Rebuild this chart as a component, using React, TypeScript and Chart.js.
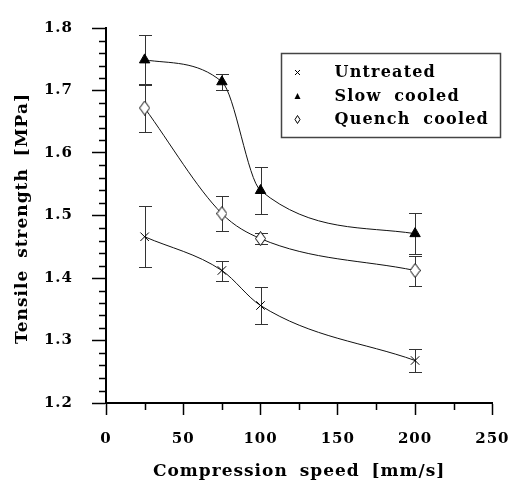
import React, { useEffect, useRef } from 'react';
import { Chart, registerables } from 'chart.js';

Chart.register(...registerables);

// ---------- data ----------
const speeds = [25, 75, 100, 200];
const untreated = [1.466, 1.412, 1.356, 1.268];
const untreatedErr = [0.049, 0.016, 0.03, 0.018];
const slowCooled = [1.749, 1.714, 1.54, 1.471];
const slowCooledErr = [0.04, 0.013, 0.038, 0.033];
const quenchCooled = [1.672, 1.503, 1.463, 1.412];
const quenchCooledErr = [0.039, 0.028, 0.009, 0.024];
const seriesLabels = ['Untreated', 'Slow cooled', 'Quench cooled'];

const xTicks = [0, 50, 100, 150, 200, 250];
const xMinorTicks = [25, 75, 125, 175, 225];
const yTicks = [1.2, 1.3, 1.4, 1.5, 1.6, 1.7, 1.8];
const yMinorTicks = [
  1.22, 1.24, 1.26, 1.28, 1.32, 1.34, 1.36, 1.38, 1.42, 1.44, 1.46, 1.48,
  1.52, 1.54, 1.56, 1.58, 1.62, 1.64, 1.66, 1.68, 1.72, 1.74, 1.76, 1.78,
];
const xTitle = 'Compression speed [mm/s]';
const yTitle = 'Tensile strength [MPa]';

const FONT = '"DejaVu Serif", "Liberation Serif", serif';
const errorSets = [untreatedErr, slowCooledErr, quenchCooledErr];

function makeDiamond(w: number, h: number, lw: number) {
  const c = document.createElement('canvas');
  c.width = w;
  c.height = h;
  const g = c.getContext('2d')!;
  g.beginPath();
  g.moveTo(w / 2, 0.5);
  g.lineTo(w - 0.5, h / 2);
  g.lineTo(w / 2, h - 0.5);
  g.lineTo(0.5, h / 2);
  g.closePath();
  g.fillStyle = '#fff';
  g.fill();
  g.lineWidth = lw;
  g.strokeStyle = '#000';
  g.stroke();
  return c;
}

const spacingPlugin = {
  id: 'spacing',
  beforeDraw(chart: any) {
    Object.values(chart.scales).forEach((s: any) => {
      if (s.__wrapped) return;
      s.__wrapped = true;
      const horiz = s.isHorizontal();
      const dt = s.drawTitle.bind(s);
      s.drawTitle = () => {
        const c = chart.ctx as any;
        c.save();
        c.letterSpacing = '1px';
        c.wordSpacing = '5px';
        if (!horiz) c.translate(0, 3);
        dt();
        c.restore();
      };
      const dl = s.drawLabels.bind(s);
      s.drawLabels = (a: any) => {
        const c = chart.ctx as any;
        c.save();
        c.letterSpacing = '1px';
        dl(a);
        c.restore();
      };
    });
  },
};

const errorBarPlugin = {
  id: 'errorBars',
  beforeDatasetsDraw(chart: any) {
    const { ctx } = chart;
    const x = chart.scales.x;
    const y = chart.scales.y;
    ctx.save();
    ctx.strokeStyle = '#333';
    ctx.lineWidth = 1;
    chart.data.datasets.forEach((ds: any, i: number) => {
      const errs = errorSets[i];
      ds.data.forEach((p: any, j: number) => {
        const px = Math.round(x.getPixelForValue(p.x)) + 0.5;
        const top = Math.round(y.getPixelForValue(p.y + errs[j])) + 0.5;
        const bot = Math.round(y.getPixelForValue(p.y - errs[j])) + 0.5;
        ctx.beginPath();
        ctx.moveTo(px, top);
        ctx.lineTo(px, bot);
        ctx.moveTo(px - 6.5, top);
        ctx.lineTo(px + 6.5, top);
        ctx.moveTo(px - 6.5, bot);
        ctx.lineTo(px + 6.5, bot);
        ctx.stroke();
      });
    });
    ctx.restore();
  },
};

const minorTickPlugin = {
  id: 'minorTicks',
  afterDraw(chart: any) {
    const { ctx, chartArea } = chart;
    const x = chart.scales.x;
    const y = chart.scales.y;
    ctx.save();
    ctx.strokeStyle = '#000';
    ctx.lineWidth = 1.5;
    ctx.beginPath();
    yMinorTicks.forEach((v) => {
      const py = Math.round(y.getPixelForValue(v)) + 0.5;
      ctx.moveTo(chartArea.left - 7, py);
      ctx.lineTo(chartArea.left, py);
    });
    xMinorTicks.forEach((v) => {
      const px = Math.round(x.getPixelForValue(v)) + 0.5;
      ctx.moveTo(px, chartArea.bottom);
      ctx.lineTo(px, chartArea.bottom + 7);
    });
    ctx.stroke();
    ctx.restore();
  },
};

const legendPlugin = {
  id: 'boxLegend',
  afterDraw(chart: any) {
    const { ctx, chartArea } = chart;
    const bx = Math.round(chartArea.left + 175) + 0.5;
    const by = Math.round(chartArea.top + 25) + 0.5;
    const bw = 219;
    const bh = 84;
    ctx.save();
    ctx.fillStyle = '#fff';
    ctx.fillRect(bx, by, bw, bh);
    ctx.strokeStyle = '#444';
    ctx.lineWidth = 1.5;
    ctx.strokeRect(bx, by, bw, bh);
    const mx = bx + 16;
    const tx = bx + 53;
    const rowY = [by + 19, by + 43, by + 66];
    ctx.strokeStyle = '#000';
    ctx.fillStyle = '#000';
    ctx.lineWidth = 1;
    let cy = rowY[0];
    ctx.beginPath();
    ctx.moveTo(mx - 2.5, cy - 2.5);
    ctx.lineTo(mx + 2.5, cy + 2.5);
    ctx.moveTo(mx + 2.5, cy - 2.5);
    ctx.lineTo(mx - 2.5, cy + 2.5);
    ctx.stroke();
    cy = rowY[1];
    ctx.beginPath();
    ctx.moveTo(mx, cy - 3.5);
    ctx.lineTo(mx + 3, cy + 2.5);
    ctx.lineTo(mx - 3, cy + 2.5);
    ctx.closePath();
    ctx.fill();
    cy = rowY[2];
    ctx.beginPath();
    ctx.moveTo(mx, cy - 4);
    ctx.lineTo(mx + 2.5, cy);
    ctx.lineTo(mx, cy + 4);
    ctx.lineTo(mx - 2.5, cy);
    ctx.closePath();
    ctx.stroke();
    const c = ctx as any;
    c.letterSpacing = '1.2px';
    c.wordSpacing = '6px';
    ctx.font = `bold 16px ${FONT}`;
    ctx.textBaseline = 'middle';
    ctx.textAlign = 'left';
    seriesLabels.forEach((t, i) => ctx.fillText(t, tx, rowY[i]));
    ctx.restore();
  },
};

export default function App() {
  const ref = useRef<HTMLCanvasElement>(null);
  useEffect(() => {
    const canvas = ref.current!;
    const diamond = makeDiamond(11, 15, 1);
    const tickFont = { family: FONT, size: 15, weight: 'bold' as const };
    const titleFont = { family: FONT, size: 17, weight: 'bold' as const };
    const chart = new Chart(canvas, {
      type: 'scatter',
      data: {
        datasets: [
          {
            label: seriesLabels[0],
            data: speeds.map((s, i) => ({ x: s, y: untreated[i] })),
            showLine: true,
            borderColor: '#111',
            borderWidth: 1,
            pointStyle: 'crossRot',
            pointRadius: 6,
            pointBorderColor: '#000',
            pointBorderWidth: 1,
            cubicInterpolationMode: 'monotone',
          },
          {
            label: seriesLabels[1],
            data: speeds.map((s, i) => ({ x: s, y: slowCooled[i] })),
            showLine: true,
            borderColor: '#111',
            borderWidth: 1,
            pointStyle: 'triangle',
            pointRadius: 6,
            pointBackgroundColor: '#000',
            pointBorderColor: '#000',
            pointBorderWidth: 1,
            cubicInterpolationMode: 'monotone',
          },
          {
            label: seriesLabels[2],
            data: speeds.map((s, i) => ({ x: s, y: quenchCooled[i] })),
            showLine: true,
            borderColor: '#111',
            borderWidth: 1,
            pointStyle: diamond,
            pointRadius: 6,
            cubicInterpolationMode: 'monotone',
          },
        ],
      },
      options: {
        responsive: false,
        animation: false,
        devicePixelRatio: 1,
        layout: { padding: { left: 0, top: 18, right: 16, bottom: 0 } },
        plugins: {
          legend: { display: false },
          tooltip: { enabled: false },
        },
        scales: {
          x: {
            type: 'linear',
            min: 0,
            max: 250,
            afterBuildTicks: (s: any) => {
              s.ticks = xTicks.map((v) => ({ value: v }));
            },
            afterFit: (s: any) => {
              s.height = 84;
            },
            ticks: {
              font: tickFont,
              color: '#000',
              padding: 15,
              maxRotation: 0,
            },
            grid: {
              drawOnChartArea: false,
              drawTicks: true,
              tickLength: 12,
              tickColor: '#000',
              tickWidth: 1.5,
            },
            border: { display: true, color: '#000', width: 2 },
            title: {
              display: true,
              text: xTitle,
              font: titleFont,
              color: '#000',
              padding: { top: 0, bottom: 5 },
            },
          },
          y: {
            type: 'linear',
            min: 1.2,
            max: 1.8,
            afterBuildTicks: (s: any) => {
              s.ticks = yTicks.map((v) => ({ value: v }));
            },
            afterFit: (s: any) => {
              s.width = 106;
            },
            ticks: {
              font: tickFont,
              color: '#000',
              padding: 19,
              callback: (v: any) => Number(v).toFixed(1),
            },
            grid: {
              drawOnChartArea: false,
              drawTicks: true,
              tickLength: 14,
              tickColor: '#000',
              tickWidth: 1.5,
            },
            border: { display: true, color: '#000', width: 2 },
            title: {
              display: true,
              text: yTitle,
              font: titleFont,
              color: '#000',
              padding: { top: 12, bottom: 0 },
            },
          },
        },
      },
      plugins: [spacingPlugin, errorBarPlugin, minorTickPlugin, legendPlugin],
    } as any);
    return () => chart.destroy();
  }, []);
  return (
    <div style={{ position: 'absolute', left: 0, top: 0, width: 523, height: 487, background: '#fff' }}>
      <canvas ref={ref} width={523} height={487} />
    </div>
  );
}
